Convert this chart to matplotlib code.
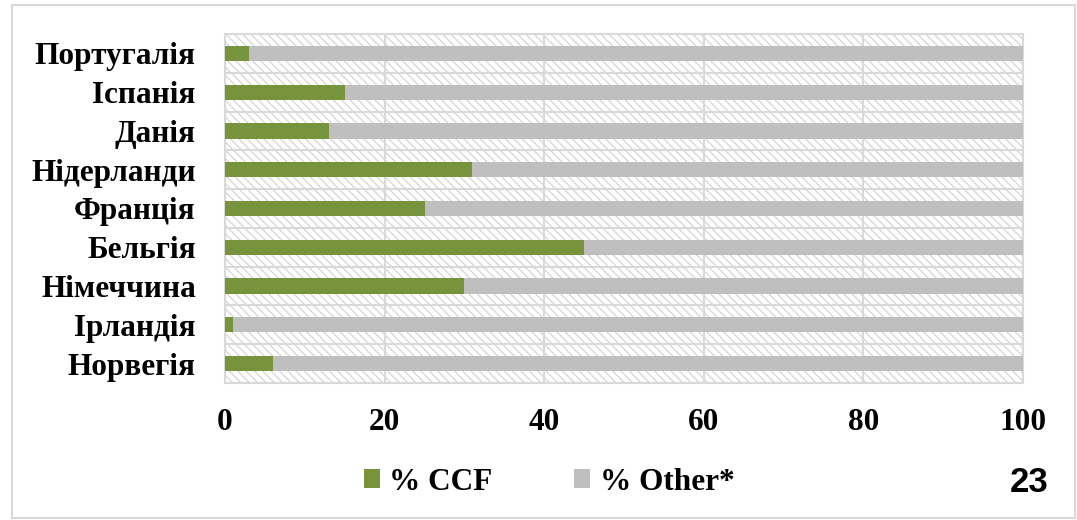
import numpy as np
import matplotlib
matplotlib.use("Agg")
import matplotlib.pyplot as plt
from matplotlib.patches import Rectangle

# дані (знизу догори)
countries = ["Норвегія", "Ірландія", "Німеччина", "Бельгія", "Франція",
             "Нідерланди", "Данія", "Іспанія", "Португалія"]
ccf = [6, 1, 30, 45, 25, 31, 13, 15, 3]
other = [100 - v for v in ccf]
xticks = [0, 20, 40, 60, 80, 100]

green = "#77933C"
grey = "#BFBFBF"
gridc = "#D9D9D9"

plt.rcParams["hatch.linewidth"] = 1.0
plt.rcParams["hatch.color"] = gridc

fig = plt.figure(figsize=(10.77, 5.20), dpi=100)
ax = fig.add_axes([225/1077, 1 - 383/520, (1023 - 225)/1077, (383 - 34)/520])

# фон з діагональною штриховкою
ax.add_patch(Rectangle((0, 0), 1, 1, transform=ax.transAxes, facecolor="white",
                       edgecolor=gridc, hatch="\\\\\\\\", lw=0, zorder=0))

y = np.arange(len(countries))
ax.barh(y, ccf, height=0.39, color=green, label="% CCF", zorder=3)
ax.barh(y, other, left=ccf, height=0.39, color=grey, label="% Other*", zorder=3)

ax.set_xlim(0, 100)
ax.set_ylim(-0.5, len(countries) - 0.5)
ax.set_xticks(xticks)
ax.set_yticks(y)
ax.set_yticklabels(countries)
ax.set_yticks(np.arange(-0.5, len(countries), 1), minor=True)
ax.grid(axis="x", color=gridc, lw=1.5, zorder=1)
ax.grid(axis="y", which="minor", color=gridc, lw=1.5, zorder=1)
ax.tick_params(axis="both", which="both", length=0)
ax.tick_params(axis="y", pad=21)
ax.tick_params(axis="x", pad=18)
for lab in ax.get_xticklabels() + ax.get_yticklabels():
    lab.set_fontfamily("Liberation Serif")
    lab.set_fontweight("bold")
    lab.set_fontsize(22.5)
for s in ax.spines.values():
    s.set_color(gridc)
    s.set_linewidth(1.5)

leg = fig.legend(loc="center", bbox_to_anchor=(549/1077, 1 - 482/520), ncol=2,
                 frameon=False, handlelength=0.52, handleheight=0.52,
                 handletextpad=0.3, columnspacing=2.6,
                 prop={"family": "Liberation Serif", "weight": "bold", "size": 22.5})

fig.text(1029/1077, 1 - 483/520, "23", ha="center", va="center",
         fontfamily="Liberation Sans", fontweight="bold", fontsize=25)

# рамка навколо рисунка
fig.patches.append(Rectangle((12/1077, 2/520), 1063/1077, 513/520,
                             transform=fig.transFigure, fill=False,
                             edgecolor=gridc, lw=1.5))

fig.savefig("out.png", dpi=100)
